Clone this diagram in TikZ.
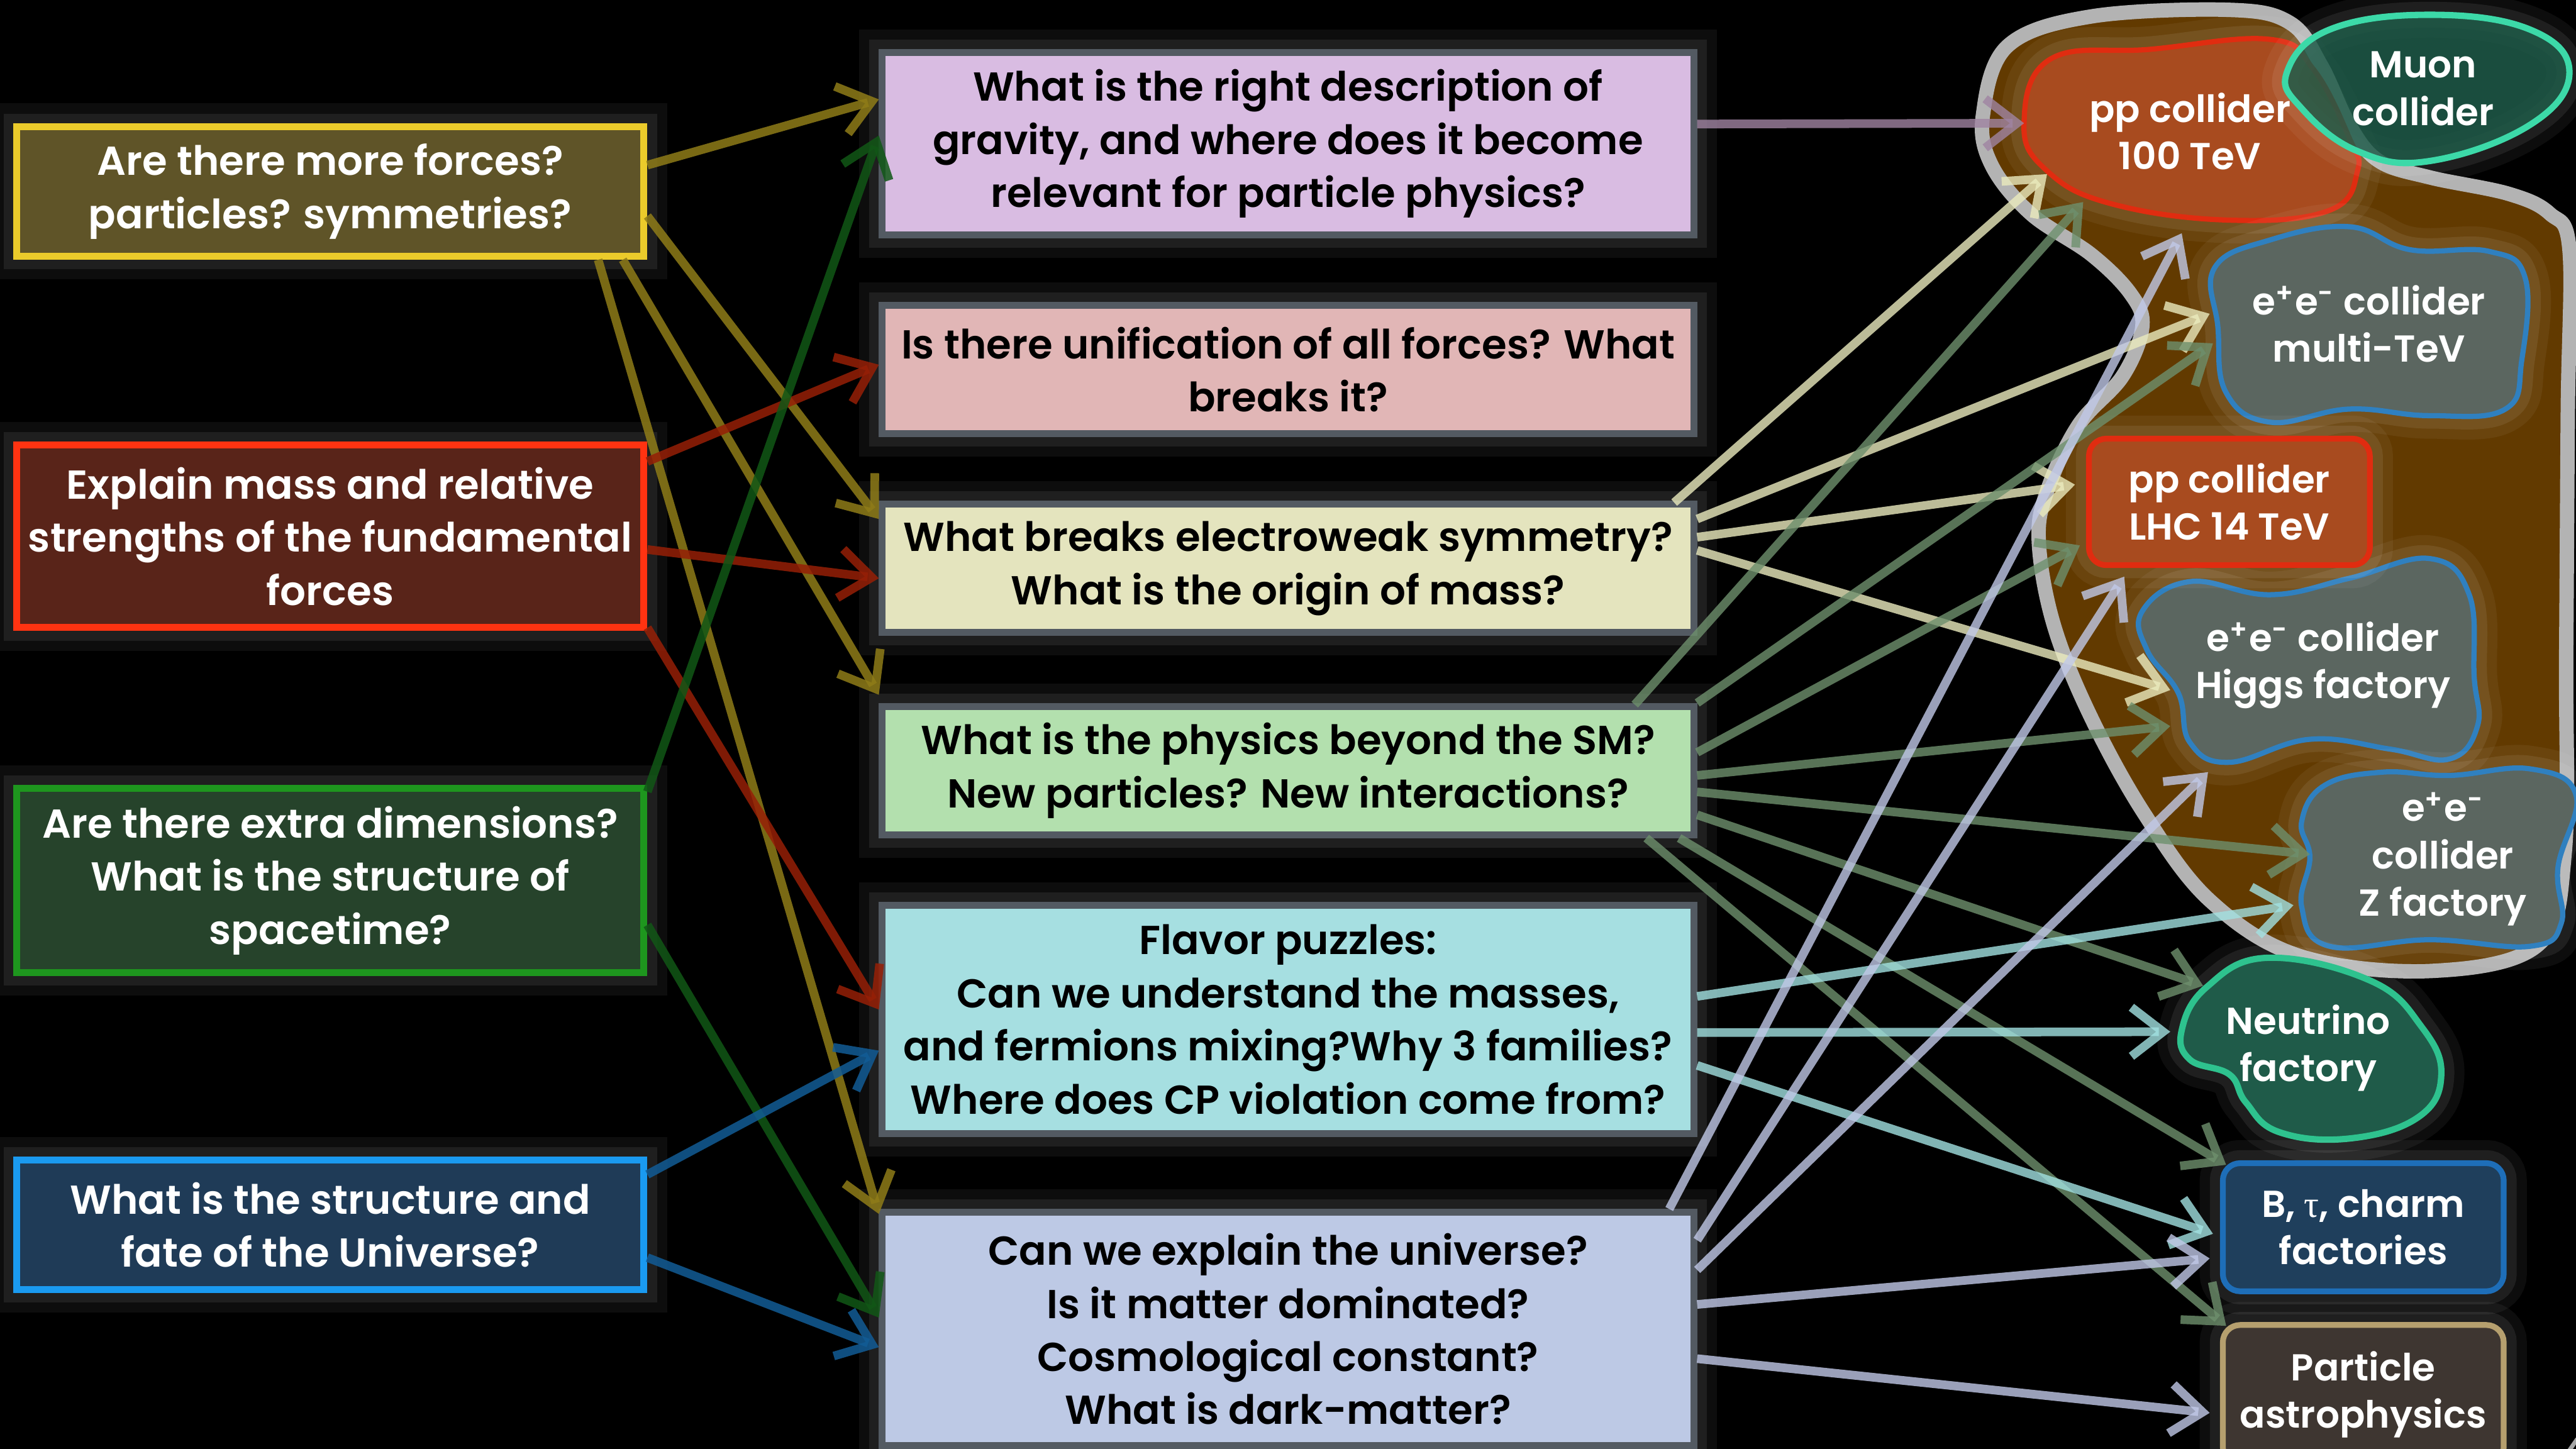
\documentclass[tikz,border=0pt]{standalone}
\usepackage{fontspec}
\setmainfont{Poppins}[UprightFont={* SemiBold}]
\newfontfamily\taufont{Liberation Serif}
\usetikzlibrary{arrows.meta}
\usetikzlibrary{calc}

\definecolor{yelline}{HTML}{EBCB2B}
\definecolor{yelfill}{HTML}{5F5428}
\definecolor{redline}{HTML}{FF3311}
\definecolor{redfill}{HTML}{592419}
\definecolor{grnline}{HTML}{1E961E}
\definecolor{grnfill}{HTML}{26432B}
\definecolor{bluline}{HTML}{1A9AF0}
\definecolor{blufill}{HTML}{1F3B57}
\definecolor{mborder}{HTML}{535A62}
\definecolor{gravfill}{HTML}{D9BCE2}
\definecolor{uniffill}{HTML}{E1B6B6}
\definecolor{ewfill}{HTML}{E4E4BE}
\definecolor{bsmfill}{HTML}{B3E0AE}
\definecolor{flavfill}{HTML}{A6DFE1}
\definecolor{univfill}{HTML}{BDC9E5}
\definecolor{bigline}{HTML}{B3B3B3}
\definecolor{bigfill}{HTML}{623A00}
\definecolor{ppline}{HTML}{E02C10}
\definecolor{ppfill}{HTML}{A84B1F}
\definecolor{eeline}{HTML}{2F80C0}
\definecolor{eefill}{HTML}{5B6660}
\definecolor{muline}{HTML}{3CD9A8}
\definecolor{mufill}{HTML}{1F5B49}
\definecolor{nuline}{HTML}{2EC28E}
\definecolor{bfline}{HTML}{1E6EB8}
\definecolor{bffill}{HTML}{1F3F5C}
\definecolor{apline}{HTML}{B59F6E}
\definecolor{apfill}{HTML}{3E3631}
\definecolor{yelarr}{HTML}{8F7C18}
\definecolor{redarr}{HTML}{961F06}
\definecolor{grnarr}{HTML}{115716}
\definecolor{bluarr}{HTML}{125C96}
\definecolor{purarr}{HTML}{A084A2}
\definecolor{crmarr}{HTML}{EBEBBE}
\definecolor{sagarr}{HTML}{6E906D}
\definecolor{cyaarr}{HTML}{A2E1E1}
\definecolor{lavarr}{HTML}{C1C9E8}

\newcommand{\boxfont}{\fontsize{14}{18.4}\selectfont}
\newcommand{\blobfont}{\fontsize{13}{16.4}\selectfont}

\tikzset{
  glow/.style={preaction={draw=white, draw opacity=0.05, line width=16pt},
               preaction={draw=white, draw opacity=0.08, line width=9pt}},
  lbox/.style={draw, line width=2.4pt, minimum width=7.64cm, align=center,
               text=white, font=\boxfont, inner sep=0pt, glow},
  mbox/.style={draw=mborder, line width=2.4pt, minimum width=9.88cm, align=center,
               text=black, font=\boxfont, inner sep=0pt, glow},
  rtext/.style={text=white, align=center, font=\blobfont, inner sep=0pt},
  rbox/.style={rtext, draw, line width=2pt, rounded corners=6pt, minimum width=3.42cm},
  blob/.style={line width=1.8pt, glow},
  arr/.style={line width=3pt, -{Straight Barb[length=11pt,width=17pt]}},
  larr/.style={arr, draw opacity=0.85},
  rarr/.style={arr, draw opacity=0.8},
}

\begin{document}
\begin{tikzpicture}[x=0.02cm,y=-0.02cm]
\useasboundingbox (0,0) rectangle (1568,882);
\fill[black] (0,0) rectangle (1568,882);
\clip (0,0) rectangle (1568,882);

% colliders group
\draw[line width=5pt, draw=bigline, fill=bigfill] plot[smooth cycle, tension=0.6] coordinates {
  (1207,70) (1222,28) (1273,10) (1357,6) (1394,14) (1413,40) (1430,76) (1448,98)
  (1479,108) (1527,118) (1552,130) (1564,152) (1563,250) (1562,400) (1561,520)
  (1545,575) (1480,591) (1400,582) (1345,548) (1305,495) (1272,435) (1250,380)
  (1241,330) (1246,299) (1265,259) (1292,229) (1304,199) (1297,179) (1273,155)
  (1236,130) (1212,100)};
\draw[blob, draw=ppline, fill=ppfill] plot[smooth cycle, tension=0.7] coordinates {
  (1232,76) (1248,36) (1309,30) (1382,24) (1408,42) (1430,84) (1435,104)
  (1418,128) (1357,134) (1285,124) (1246,104)};
\draw[blob, draw=eeline, fill=eefill] plot[smooth cycle, tension=0.7] coordinates {
  (1348,163) (1382,146) (1430,138) (1467,152) (1515,153) (1537,169) (1535,219)
  (1525,249) (1479,253) (1430,249) (1382,257) (1355,239) (1350,199)};
\draw[blob, draw=eeline, fill=eefill] plot[smooth cycle, tension=0.7] coordinates {
  (1304,372) (1333,354) (1382,362) (1430,352) (1479,340) (1503,362) (1506,412)
  (1508,442) (1491,462) (1455,456) (1406,450) (1357,464) (1333,452) (1326,422)
  (1307,396)};
\draw[blob, draw=eeline, fill=eefill] plot[smooth cycle, tension=0.7] coordinates {
  (1406,522) (1401,500) (1415,478) (1450,470) (1491,472) (1540,468) (1568,484)
  (1557,528) (1559,562) (1540,576) (1479,572) (1418,576) (1401,552)};
\draw[blob, line width=2.2pt, draw=muline, fill=mufill, fill opacity=0.85] plot[smooth cycle, tension=0.7] coordinates {
  (1392,44) (1418,18) (1479,9) (1540,18) (1564,44) (1540,76) (1479,98) (1435,92) (1401,66)};
\draw[blob, line width=2.2pt, draw=nuline, fill=mufill] plot[smooth cycle, tension=0.7] coordinates {
  (1328,627) (1343,601) (1380,583) (1443,597) (1474,625) (1486,654) (1472,680)
  (1430,693) (1387,689) (1367,671) (1357,654) (1333,645)};

% left column
\node[lbox, draw=yelline, fill=yelfill, minimum height=1.58cm] (lyel) at (201,116.5)
  {Are there more forces?\\particles? symmetries?};
\node[lbox, draw=redline, fill=redfill, minimum height=2.22cm] (lred) at (201,326.5)
  {Explain mass and relative\\strengths of the fundamental\\forces};
\node[lbox, draw=grnline, fill=grnfill, minimum height=2.24cm] (lgrn) at (201,536)
  {Are there extra dimensions?\\What is the structure of\\spacetime?};
\node[lbox, draw=bluline, fill=blufill, minimum height=1.58cm] (lblu) at (201,745.5)
  {What is the structure and\\fate of the Universe?};

% middle column
\node[mbox, fill=gravfill, minimum height=2.22cm] (grav) at (784,87.5)
  {What is the right description of\\gravity, and where does it become\\relevant for particle physics?};
\node[mbox, fill=uniffill, minimum height=1.56cm] (unif) at (784,225)
  {Is there unification of all forces? What\\breaks it?};
\node[mbox, fill=ewfill, minimum height=1.56cm] (ew) at (784,346)
  {What breaks electroweak symmetry?\\What is the origin of mass?};
\node[mbox, fill=bsmfill, minimum height=1.56cm] (bsm) at (784,469)
  {What is the physics beyond the SM?\\New particles? New interactions?};
\node[mbox, fill=flavfill, minimum height=2.78cm] (flav) at (784,620.5)
  {Flavor puzzles:\\Can we understand the masses,\\and fermions mixing?Why 3 families?\\Where does CP violation come from?};
\node[mbox, fill=univfill, minimum height=2.84cm] (univ) at (784,809)
  {Can we explain the universe?\\Is it matter dominated?\\Cosmological constant?\\What is dark-matter?};

% right column
\node[rtext] (pp100) at (1333,80) {pp collider\\100 TeV};
\node[rtext] (muon) at (1475,54) {Muon\\collider};
\node[rtext] (multi) at (1442,197) {e\textsuperscript{+}e\textsuperscript{-} collider\\multi-TeV};
\node[rbox, draw=ppline, fill=ppfill, minimum height=1.54cm, glow] (lhc) at (1357,305.5) {pp collider\\LHC 14 TeV};
\node[rtext] (higgs) at (1414,405) {e\textsuperscript{+}e\textsuperscript{-} collider\\Higgs factory};
\node[rtext] (zfac) at (1487,523) {e\textsuperscript{+}e\textsuperscript{-}\\collider\\Z factory};
\node[rtext] (nu) at (1405,638) {Neutrino\\factory};
\node[rbox, draw=bfline, fill=bffill, minimum height=1.56cm, glow] (bfac) at (1438.5,747) {B, {\taufont τ}, charm\\factories};
\node[rbox, draw=apline, fill=apfill, minimum height=1.7cm, glow] (astro) at (1438.5,849) {Particle\\astrophysics};
\node[text=gray!70, font=\blobfont, anchor=north, inner sep=0pt] (pnum) at (1567,875) {4};

% arrow tips on the right
\coordinate (pp-a) at (1232,75);
\coordinate (pp-b) at (1246,106);
\coordinate (pp-c) at (1268,123);
\coordinate (pp-d) at (1328,142);
\coordinate (mt-a) at (1345,191);
\coordinate (mt-b) at (1347,209);
\coordinate (lhc-a) at (1263,295);
\coordinate (lhc-b) at (1266,332);
\coordinate (lhc-c) at (1293,351);
\coordinate (hf-a) at (1321,420);
\coordinate (hf-b) at (1321,442);
\coordinate (hf-c) at (1344,470);
\coordinate (zf-a) at (1406,520);
\coordinate (zf-b) at (1396,551);
\coordinate (nu-a) at (1341,600);
\coordinate (nu-b) at (1321,628);
\coordinate (bf-a) at (1355,709);
\coordinate (bf-b) at (1347,751);
\coordinate (bf-c) at (1345,766);
\coordinate (ap-a) at (1355,807);
\coordinate (ap-b) at (1345,860);

% questions -> questions
\draw[larr, yelarr] ($(lyel.east)+(0,-16)$) -- ($(grav.west)+(0,-27)$);
\draw[larr, yelarr] ($(lyel.east)+(0,15)$) -- ($(ew.north west)+(0,11)$);
\draw[larr, yelarr] ($(lyel.south east)+(-15,0)$) -- ($(bsm.north west)+(0,-5)$);
\draw[larr, yelarr] ($(lyel.south east)+(-30,0)$) -- ($(univ.north west)+(0,3)$);
\draw[larr, redarr] ($(lred.north east)+(0,12)$) -- ($(unif.west)+(0,-3)$);
\draw[larr, redarr] ($(lred.east)+(0,8)$) -- ($(ew.west)+(0,6)$);
\draw[larr, redarr] ($(lred.south east)+(0,-2)$) -- ($(flav.west)+(0,-6)$);
\draw[larr, grnarr] ($(lgrn.north east)+(0,4)$) -- ($(grav.west)+(0,-5)$);
\draw[larr, grnarr] ($(lgrn.east)+(0,27)$) -- ($(univ.west)+(0,-7)$);
\draw[larr, bluarr] ($(lblu.north east)+(0,11)$) -- ($(flav.west)+(0,19)$);
\draw[larr, bluarr] ($(lblu.east)+(0,20)$) -- ($(univ.west)+(0,11)$);

% questions -> facilities
\draw[rarr, purarr] ($(grav.east)+(0,-12)$) -- (pp-a);
\draw[rarr, crmarr] ($(ew.north east)+(-14,1)$) -- (pp-b);
\draw[rarr, crmarr] ($(ew.north east)+(0,11)$) -- (mt-a);
\draw[rarr, crmarr] ($(ew.east)+(0,-19)$) -- (lhc-a);
\draw[rarr, crmarr] ($(ew.east)+(0,-11)$) -- (hf-a);
\draw[rarr, sagarr] ($(bsm.north east)+(-38,1)$) -- (pp-c);
\draw[rarr, sagarr] (bsm.north east) -- (mt-b);
\draw[rarr, sagarr] ($(bsm.east)+(0,-11)$) -- (lhc-b);
\draw[rarr, sagarr] ($(bsm.east)+(0,3)$) -- (hf-b);
\draw[rarr, sagarr] ($(bsm.east)+(0,13)$) -- (zf-a);
\draw[rarr, sagarr] ($(bsm.east)+(0,27)$) -- (nu-a);
\draw[rarr, sagarr] ($(bsm.south east)+(-11,0)$) -- (bf-a);
\draw[rarr, sagarr] ($(bsm.south east)+(-31,0)$) -- (ap-a);
\draw[rarr, cyaarr] ($(flav.east)+(0,-14)$) -- (zf-b);
\draw[rarr, cyaarr] ($(flav.east)+(0,8)$) -- (nu-b);
\draw[rarr, cyaarr] ($(flav.east)+(0,28)$) -- (bf-b);
\draw[rarr, lavarr] ($(univ.north east)+(-17,0)$) -- (pp-d);
\draw[rarr, lavarr] ($(univ.north east)+(0,19)$) -- (lhc-c);
\draw[rarr, lavarr] ($(univ.east)+(0,-36)$) -- (hf-c);
\draw[rarr, lavarr] ($(univ.east)+(0,-15)$) -- (bf-c);
\draw[rarr, lavarr] ($(univ.east)+(0,18)$) -- (ap-b);
\end{tikzpicture}
\end{document}
